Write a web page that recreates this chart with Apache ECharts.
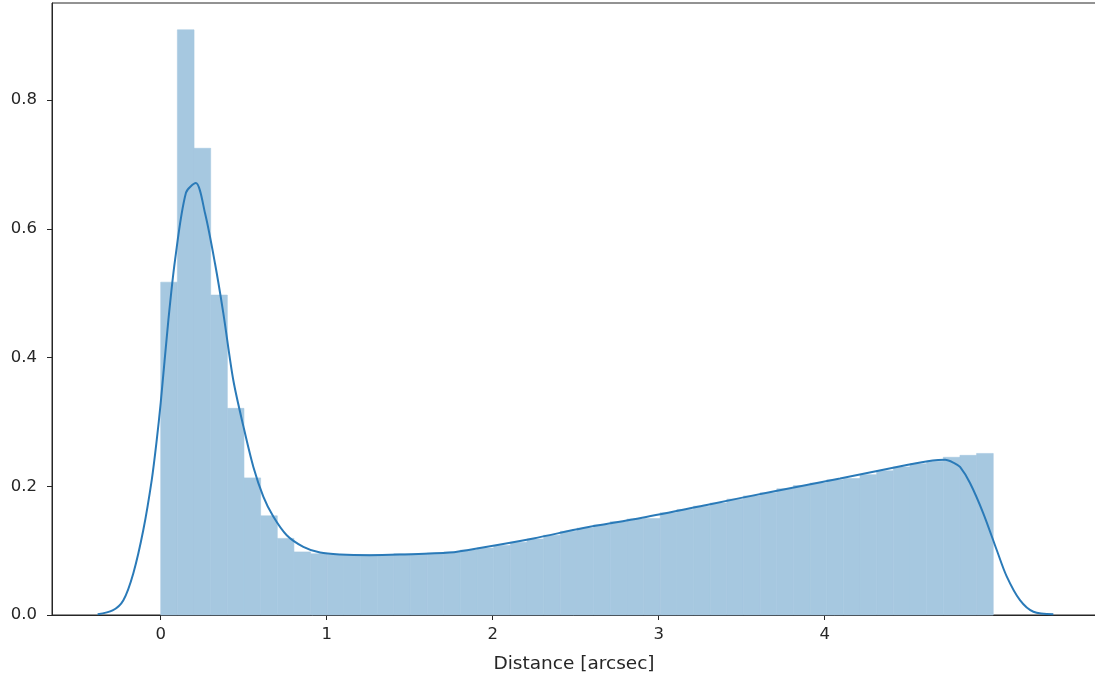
<!DOCTYPE html>
<html>
<head>
<meta charset="utf-8">
<script src="https://cdn.jsdelivr.net/npm/echarts@6/dist/echarts.min.js"></script>
<style>
html,body{margin:0;padding:0;background:#fff;overflow:hidden;}
#chart{width:1095px;height:677px;}
</style>
</head>
<body>
<div id="chart"></div>
<script>
// Histogram: bins start at 0, constant width
const binStart = 0;
const binWidth = 0.1003;
const binHeights = [
  0.517, 0.909, 0.725, 0.497, 0.321, 0.213, 0.154, 0.119, 0.098, 0.095,
  0.094, 0.094, 0.094, 0.094, 0.095, 0.095, 0.096, 0.098, 0.101, 0.104,
  0.108, 0.113, 0.118, 0.124, 0.130, 0.135, 0.140, 0.145, 0.149, 0.150,
  0.159, 0.164, 0.169, 0.174, 0.180, 0.185, 0.190, 0.196, 0.201, 0.205,
  0.210, 0.212, 0.218, 0.224, 0.230, 0.235, 0.239, 0.245, 0.248, 0.251
];
// KDE curve points
const kdeX = [-0.38,-0.29,-0.225,-0.165,-0.105,-0.054,-0.024,0.0,0.046,0.086,0.152,0.211,0.267,0.327,0.377,0.437,0.498,0.558,0.618,0.678,0.759,0.859,0.960,1.08,1.26,1.44,1.74,1.94,2.245,2.546,2.90,3.289,3.690,4.092,4.494,4.65,4.725,4.78,4.815,4.875,4.955,5.036,5.096,5.176,5.257,5.377];
const kdeY = [0.001,0.007,0.023,0.065,0.132,0.210,0.272,0.33,0.458,0.551,0.656,0.671,0.624,0.546,0.469,0.365,0.293,0.230,0.184,0.153,0.124,0.106,0.097,0.094,0.093,0.094,0.097,0.105,0.119,0.135,0.151,0.171,0.192,0.212,0.233,0.240,0.241,0.236,0.230,0.205,0.158,0.101,0.060,0.023,0.005,0.001];
const xTicks = [0,1,2,3,4];
const yTicks = [0.0,0.2,0.4,0.6,0.8];
const xName = 'Distance [arcsec]';

const barData = binHeights.map((h,i)=>[binStart+i*binWidth, binStart+(i+1)*binWidth, h]);
const kdeData = kdeX.map((x,i)=>[x,kdeY[i]]);

const chart = echarts.init(document.getElementById('chart'), null, {renderer:'canvas'});
const tickText = {color:'#262626', fontFamily:'DejaVu Sans', fontSize:16.5};
const nameText = {color:'#262626', fontFamily:'DejaVu Sans', fontSize:18.5};
const barColor = 'rgb(166,200,224)';
chart.setOption({
  animation:false,
  backgroundColor:'#fff',
  grid:{left:52, right:-1, top:3, bottom:62, containLabel:false, outerBoundsMode:'none',
        show:true, borderColor:'#262626', borderWidth:1, backgroundColor:'transparent'},
  xAxis:{
    type:'value', min:-0.655, max:5.634,
    name:xName, nameLocation:'middle', nameGap:40,
    nameTextStyle:nameText,
    splitLine:{show:false},
    axisLine:{show:true, onZero:false, lineStyle:{color:'#262626', width:1}},
    axisTick:{show:true, length:5, customValues:xTicks, lineStyle:{color:'#262626'}},
    axisLabel:Object.assign({customValues:xTicks, margin:11, formatter:v=>String(v)}, tickText)
  },
  yAxis:{
    type:'value', min:0, max:0.9507,
    splitLine:{show:false},
    axisLine:{show:true, onZero:false, lineStyle:{color:'#262626', width:1}},
    axisTick:{show:true, length:5, customValues:yTicks, lineStyle:{color:'#262626'}},
    axisLabel:Object.assign({customValues:yTicks, margin:15, formatter:v=>v.toFixed(1)}, tickText)
  },
  series:[
    {
      type:'custom',
      data:barData,
      encode:{x:[0,1], y:2},
      renderItem:function(params, api){
        const p0 = api.coord([api.value(0), api.value(2)]);
        const p1 = api.coord([api.value(1), 0]);
        return {
          type:'rect',
          shape:{x:p0[0], y:p0[1], width:p1[0]-p0[0], height:p1[1]-p0[1]},
          style:{fill:barColor, stroke:barColor, lineWidth:0.6}
        };
      },
      z:1
    },
    {
      type:'line',
      data:kdeData,
      showSymbol:false,
      smooth:0.3,
      lineStyle:{color:'#2a7ab8', width:2},
      z:3
    }
  ]
});
</script>
</body>
</html>
